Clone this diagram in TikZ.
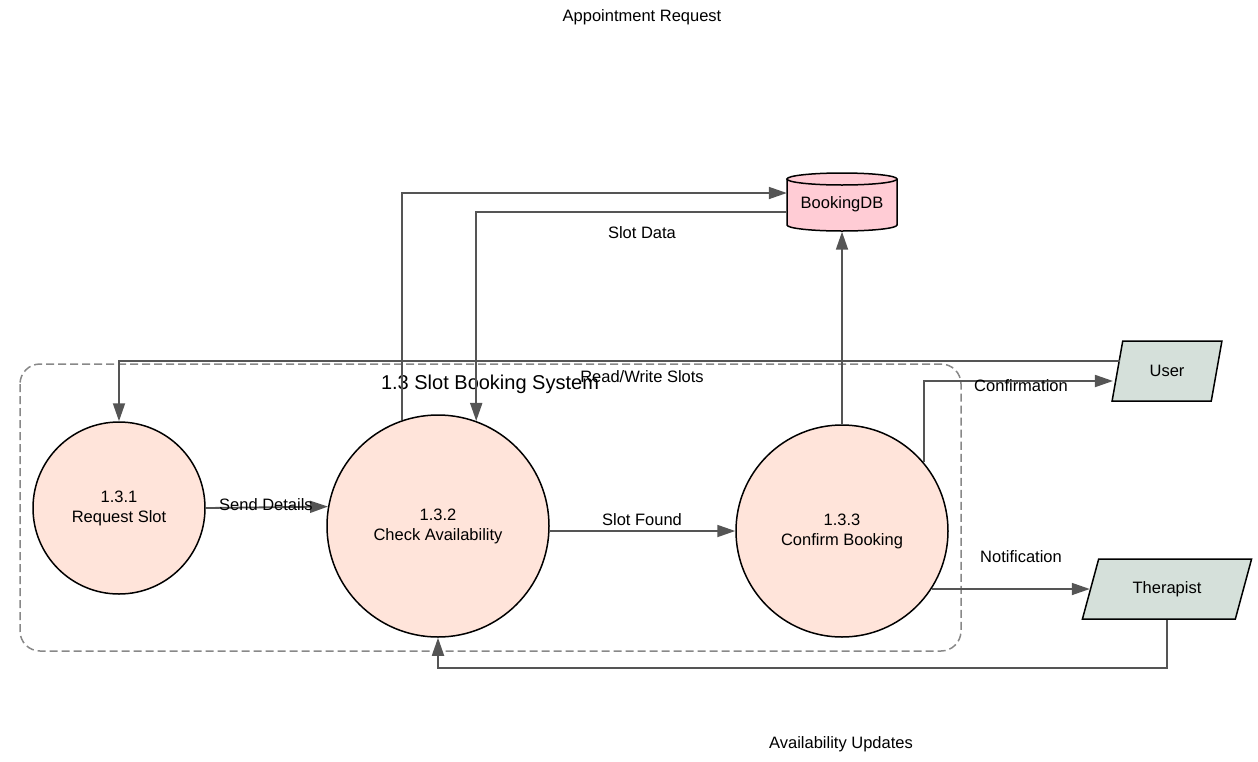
\documentclass[tikz,border=0pt]{standalone}
\usepackage{fontspec}
\setmainfont{Liberation Sans}
\usetikzlibrary{shapes.geometric,arrows.meta,calc}
\definecolor{procfill}{HTML}{FFE4DA}
\definecolor{storefill}{HTML}{FFCCD5}
\definecolor{extfill}{HTML}{D5E0DA}
\definecolor{flowgray}{HTML}{555555}
\definecolor{groupgray}{HTML}{888888}
\tikzset{
  txt/.style={font=\fontsize{16.5}{20}\selectfont},
  lbl/.style={txt, inner sep=0pt, text=black, yshift=-1.5pt},
  process/.style={circle, draw=black, line width=1.5pt, fill=procfill,
    inner sep=0pt, align=center, txt},
  extent/.style={trapezium, trapezium stretches=true, draw=black,
    line width=1.5pt, fill=extfill, minimum height=60pt, inner sep=0pt, txt},
  flowline/.style={draw=flowgray, line width=1.8pt,
    -{Triangle[length=18pt,width=12pt]}},
  groupbox/.style={draw=groupgray, line width=1.5pt,
    dash pattern=on 8pt off 4pt, rounded corners=20pt}
}
\begin{document}
\begin{tikzpicture}[x=1pt,y=-1pt]
  \useasboundingbox (0,0) rectangle (1258,761);

  % subsystem boundary
  \draw[groupbox] (20,364) rectangle (961,651);
  \node[inner sep=0pt, yshift=-1pt, font=\fontsize{20}{24}\selectfont] (title) at (490,383) {1.3 Slot Booking System};

  % processes
  \node[process, minimum size=172pt] (c1) at (119,508) {1.3.1\\Request Slot};
  \node[process, minimum size=222pt] (c2) at (438,526) {1.3.2\\Check Availability};
  \node[process, minimum size=212pt] (c3) at (842,531) {1.3.3\\Confirm Booking};

  % data store
  \path[fill=storefill, draw=black, line width=1.5pt]
    (787,179) -- (787,225)
    arc[start angle=180, end angle=360, x radius=55pt, y radius=6pt]
    -- (897,179);
  \draw[fill=storefill, line width=1.5pt] (842,179) ellipse[x radius=55pt, y radius=6pt];
  \node[txt, minimum width=110pt, minimum height=59pt, inner sep=0pt] (db) at (842,202) {};
  \node[lbl] (dbtext) at (842,203) {BookingDB};

  % external entities
  \node[extent, minimum width=110pt, trapezium left angle=70, trapezium right angle=110] (ua) at (1167,371) {User};
  \node[extent, minimum width=170pt, trapezium left angle=62, trapezium right angle=118] (th) at (1167,589) {Therapist};

  % data flows
  \draw[flowline] ($(ua.west)+(3.7,-10)$) -| (c1.north);
  \draw[flowline] (c1.east) -- (c2.170.66);
  \draw[flowline] (c2.109.5) |- ($(db.west)+(0,-9)$);
  \draw[flowline] ($(db.west)+(0,10)$) -| (c2.70.5);
  \draw[flowline] (c2.east |- c3.west) -- (c3.west);
  \draw[flowline] (c3.north) -- (db.south);
  \draw[flowline] (c3.40.7) |- ($(ua.west)+(-3.7,10)$);
  \draw[flowline] (th.west -| c3.-33.1) -- (th.west);
  \draw[flowline] (th.south) -- ++(0,48) -| (c2.south);

  % flow labels
  \node[lbl] (l1) at (642,16) {Appointment Request};
  \node[lbl] (l2) at (266,503) {Send Details};
  \node[lbl] (l3) at (642,375) {Read/Write Slots};
  \node[lbl] (l4) at (642,231) {Slot Data};
  \node[lbl] (l5) at (642,518) {Slot Found};
  \node[lbl] (l6) at (1021,384) {Confirmation};
  \node[lbl] (l7) at (1021,555) {Notification};
  \node[lbl] (l8) at (841,743) {Availability Updates};
\end{tikzpicture}
\end{document}
